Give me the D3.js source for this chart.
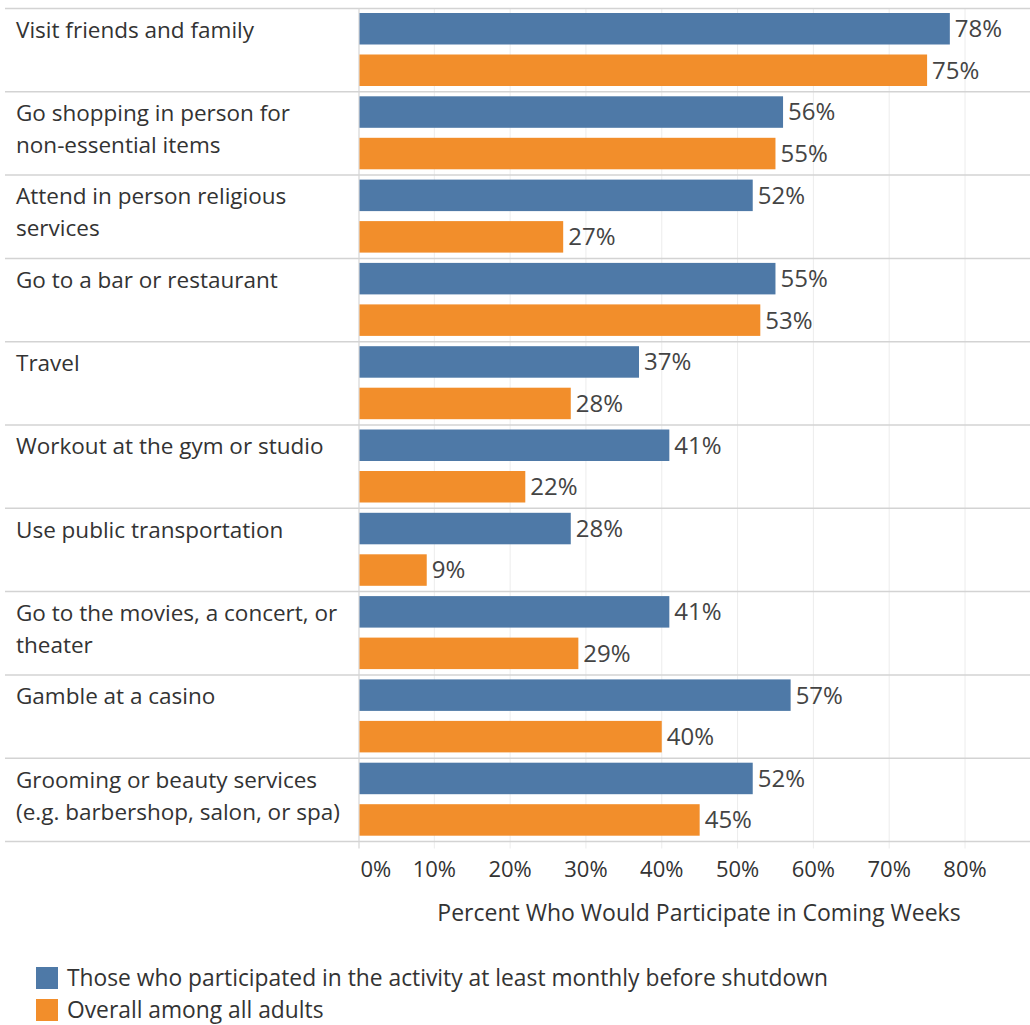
<!DOCTYPE html>
<html>
<head>
<meta charset="utf-8">
<script src="https://cdn.jsdelivr.net/npm/d3@7"></script>
<style>
  html, body { margin: 0; padding: 0; background: #fff; }
  svg { display: block; font-family: "Open Sans", "Noto Sans", sans-serif; }
</style>
</head>
<body>
<svg id="chart" width="1030" height="1025"></svg>
<script>
// Activities, one entry per row; label lines are pre-wrapped
const activities = [
  ["Visit friends and family"],
  ["Go shopping in person for", "non-essential items"],
  ["Attend in person religious", "services"],
  ["Go to a bar or restaurant"],
  ["Travel"],
  ["Workout at the gym or studio"],
  ["Use public transportation"],
  ["Go to the movies, a concert, or", "theater"],
  ["Gamble at a casino"],
  ["Grooming or beauty services", "(e.g. barbershop, salon, or spa)"]
];

// Share who would participate in coming weeks (%)
const monthlyParticipants = [78, 56, 52, 55, 37, 41, 28, 41, 57, 52];
const allAdults = [75, 55, 27, 53, 28, 22, 9, 29, 40, 45];

const seriesNames = [
  "Those who participated in the activity at least monthly before shutdown",
  "Overall among all adults"
];
const seriesColors = ["#4e79a7", "#f28e2b"];

const xTicks = [0, 10, 20, 30, 40, 50, 60, 70, 80];
const axisTitle = "Percent Who Would Participate in Coming Weeks";

const svg = d3.select("#chart");
const W = 1030;
const plotLeft = 359;
const plotTop = 8.5, rowH = 83.3;
const labelLeft = 16;
const textColor = "#333";
const labelSize = 22.5;
const titleSize = 23;
const legendSize = 22.8;
const tickSize = 22;
const valueSize = 24;

const x = d3.scaleLinear().domain([0, 80]).range([358.5, 965]);
const rows = d3.scaleBand()
  .domain(d3.range(activities.length))
  .range([plotTop, plotTop + rowH * activities.length]);
const plotBottom = plotTop + rowH * activities.length;

// vertical gridlines, extended a little below the plot as tick marks
svg.append("g")
  .selectAll("line")
  .data(xTicks.slice(1))
  .join("line")
  .attr("x1", d => x(d)).attr("x2", d => x(d))
  .attr("y1", plotTop).attr("y2", plotBottom + 7)
  .attr("stroke", "#ececec").attr("stroke-width", 1);

// row separators
svg.append("g")
  .selectAll("line")
  .data(d3.range(activities.length + 1))
  .join("line")
  .attr("x1", 5).attr("x2", W)
  .attr("y1", i => plotTop + i * rowH).attr("y2", i => plotTop + i * rowH)
  .attr("stroke", "#d3d3d3").attr("stroke-width", 1.5);

// zero line
svg.append("line")
  .attr("x1", plotLeft).attr("x2", plotLeft)
  .attr("y1", plotTop).attr("y2", plotBottom + 7)
  .attr("stroke", "#d6d6d6").attr("stroke-width", 1.2);

// bars
const series = [monthlyParticipants, allAdults];
const barH = 31.5;
const barOffsets = [4.5, 46];

const rowG = svg.append("g")
  .selectAll("g")
  .data(activities.map((lines, i) => ({ lines, i })))
  .join("g")
  .attr("transform", d => `translate(0,${rows(d.i)})`);

series.forEach((vals, s) => {
  rowG.append("rect")
    .attr("x", plotLeft + 0.5)
    .attr("y", barOffsets[s])
    .attr("width", d => x(vals[d.i]) - plotLeft - 0.5)
    .attr("height", barH)
    .attr("fill", seriesColors[s]);

  rowG.append("text")
    .attr("x", d => x(vals[d.i]) + 5)
    .attr("y", barOffsets[s] + barH / 2)
    .attr("dy", "0.35em")
    .attr("font-size", valueSize)
    .attr("fill", "#444")
    .text(d => vals[d.i] + "%");
});

// row labels
rowG.append("text")
  .attr("x", labelLeft)
  .attr("font-size", labelSize)
  .attr("fill", textColor)
  .selectAll("tspan")
  .data(d => d.lines)
  .join("tspan")
  .attr("x", labelLeft)
  .attr("y", (d, j) => 21.5 + j * 32)
  .attr("dy", "0.35em")
  .text(d => d);

// x axis tick labels (first one sits left-aligned on the zero line)
svg.append("g")
  .selectAll("text")
  .data(xTicks)
  .join("text")
  .attr("x", d => d === 0 ? plotLeft + 1.5 : x(d))
  .attr("y", 869)
  .attr("dy", "0.35em")
  .attr("text-anchor", d => d === 0 ? "start" : "middle")
  .attr("font-size", tickSize)
  .attr("fill", textColor)
  .text(d => d + "%");

svg.append("text")
  .attr("x", 699)
  .attr("y", 913)
  .attr("dy", "0.35em")
  .attr("text-anchor", "middle")
  .attr("font-size", titleSize)
  .attr("fill", textColor)
  .text(axisTitle);

// legend
const legend = svg.append("g")
  .selectAll("g")
  .data(seriesNames)
  .join("g")
  .attr("transform", (d, i) => `translate(36,${967 + i * 32})`);
legend.append("rect")
  .attr("width", 22).attr("height", 22)
  .attr("fill", (d, i) => seriesColors[i]);
legend.append("text")
  .attr("x", 31).attr("y", 11)
  .attr("dy", "0.35em")
  .attr("font-size", legendSize)
  .attr("fill", textColor)
  .text(d => d);
</script>
</body>
</html>
